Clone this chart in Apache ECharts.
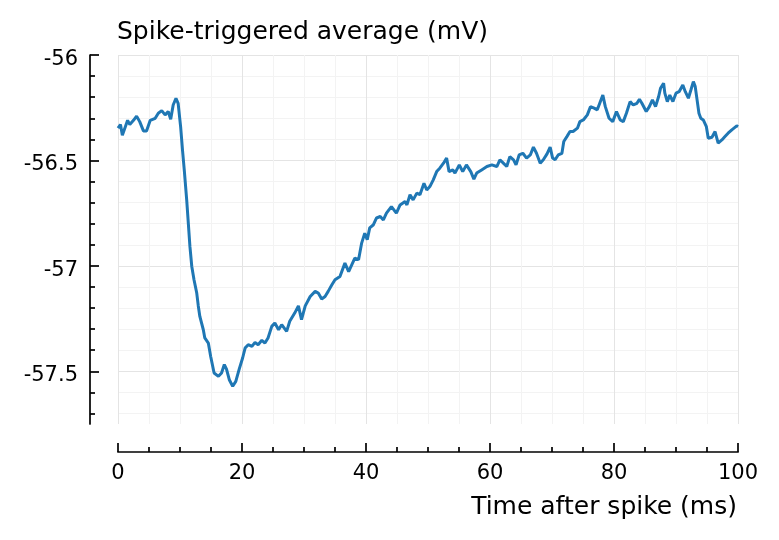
<!DOCTYPE html>
<html>
<head>
<meta charset="utf-8">
<script src="https://cdn.jsdelivr.net/npm/echarts@6/dist/echarts.min.js"></script>
<style>html,body{margin:0;padding:0;background:#fff}#c{width:779px;height:540px}</style>
</head>
<body>
<div id="c"></div>
<script>
const timeMs = [0,0.4,0.7,1.1,1.55,1.9,2.5,3.0,3.5,4.1,4.6,5.2,6.0,6.5,7.05,7.6,8.1,8.5,8.9,9.35,9.7,10.1,10.4,10.7,11.08,11.34,11.6,11.9,12.26,12.7,12.95,13.2,13.76,14.0,14.57,14.95,15.5,16.2,16.7,17.15,17.5,17.95,18.5,19.0,19.55,20.1,20.5,21.0,21.6,22.1,22.6,23.2,23.7,24.2,24.8,25.3,25.9,26.4,27.2,27.7,28.5,29.1,29.6,30.2,31.0,31.8,32.3,32.85,33.4,33.9,34.5,35.0,35.8,36.6,37.2,37.7,38.2,38.8,39.3,39.8,40.2,40.6,41.2,41.7,42.3,42.8,43.3,44.1,44.9,45.5,46.3,46.6,47.1,47.6,48.2,48.7,49.35,49.8,50.3,50.85,51.4,51.9,52.5,53.0,53.4,54.0,54.35,55.05,55.6,56.2,56.9,57.4,57.85,58.65,59.5,60.3,61.1,61.6,62.15,62.7,63.2,63.8,64.2,64.7,65.3,65.9,66.5,67.0,67.5,68.1,68.6,69.2,69.7,70.1,70.5,71.0,71.6,71.9,72.4,72.9,73.4,74.1,74.5,75.05,75.7,76.2,76.8,77.3,77.7,78.2,78.6,79.2,79.8,80.4,81.0,81.5,82.0,82.6,83.1,83.7,84.1,84.5,85.2,85.7,86.2,86.7,87.2,87.5,88.0,88.2,88.6,89.0,89.5,90.0,90.5,91.1,91.5,92.0,92.4,92.8,93.1,93.4,93.7,94.0,94.4,94.9,95.2,95.8,96.3,96.8,97.4,97.9,98.4,99.0,99.8,100];
const voltage = [-56.347,-56.33,-56.38,-56.347,-56.31,-56.33,-56.31,-56.29,-56.316,-56.36,-56.36,-56.31,-56.30,-56.276,-56.264,-56.284,-56.268,-56.305,-56.237,-56.205,-56.229,-56.34,-56.45,-56.55,-56.687,-56.797,-56.908,-57.003,-57.066,-57.129,-57.19,-57.24,-57.303,-57.342,-57.366,-57.43,-57.508,-57.524,-57.508,-57.468,-57.49,-57.54,-57.571,-57.548,-57.49,-57.437,-57.39,-57.374,-57.382,-57.363,-57.374,-57.353,-57.366,-57.342,-57.287,-57.271,-57.303,-57.279,-57.311,-57.263,-57.224,-57.19,-57.255,-57.19,-57.145,-57.121,-57.129,-57.157,-57.145,-57.121,-57.09,-57.066,-57.05,-56.987,-57.027,-56.995,-56.963,-56.971,-56.892,-56.845,-56.876,-56.82,-56.805,-56.773,-56.766,-56.782,-56.75,-56.719,-56.75,-56.711,-56.695,-56.711,-56.663,-56.687,-56.655,-56.663,-56.608,-56.64,-56.624,-56.592,-56.553,-56.537,-56.513,-56.489,-56.553,-56.545,-56.56,-56.521,-56.553,-56.521,-56.553,-56.589,-56.56,-56.545,-56.529,-56.521,-56.529,-56.497,-56.513,-56.529,-56.482,-56.497,-56.521,-56.474,-56.466,-56.489,-56.474,-56.437,-56.466,-56.513,-56.497,-56.469,-56.437,-56.489,-56.497,-56.474,-56.466,-56.41,-56.387,-56.363,-56.363,-56.347,-56.316,-56.308,-56.284,-56.245,-56.252,-56.26,-56.229,-56.19,-56.245,-56.3,-56.316,-56.268,-56.308,-56.316,-56.276,-56.221,-56.237,-56.229,-56.21,-56.229,-56.268,-56.245,-56.213,-56.245,-56.197,-56.158,-56.134,-56.181,-56.221,-56.19,-56.221,-56.181,-56.174,-56.142,-56.174,-56.205,-56.166,-56.126,-56.15,-56.213,-56.276,-56.3,-56.308,-56.34,-56.395,-56.39,-56.363,-56.418,-56.403,-56.387,-56.371,-56.355,-56.336,-56.34];
const yMajorTicks = [-57.5,-57,-56.5,-56];
const yMinorTicks = [-57.7,-57.6,-57.4,-57.3,-57.2,-57.1,-56.9,-56.8,-56.7,-56.6,-56.4,-56.3,-56.2,-56.1];
const titleText = 'Spike-triggered average (mV)';
const xName = 'Time after spike (ms)';

const FONT = 'DejaVu Sans';
const chart = echarts.init(document.getElementById('c'), null, {renderer:'canvas'});
const data = timeMs.map((t,i)=>[t, voltage[i]]);
chart.setOption({
  animation:false,
  backgroundColor:'#fff',
  title:[
    {text:titleText, left:112, top:15, padding:5,
     textStyle:{fontFamily:FONT, fontSize:25, fontWeight:'normal', color:'#000'}},
    {text:xName, right:37, top:490, padding:5,
     textStyle:{fontFamily:FONT, fontSize:25, fontWeight:'normal', color:'#000'}}
  ],
  grid:{left:118, right:41, top:55, bottom:116, containLabel:false},
  xAxis:{type:'value', min:0, max:100, interval:20, position:'bottom', offset:28,
    axisLine:{show:true, onZero:false, lineStyle:{color:'#000', width:1.7}},
    axisTick:{show:true, inside:true, length:9, lineStyle:{color:'#000', width:1.7}},
    minorTick:{show:true, splitNumber:4, length:5, lineStyle:{color:'#000', width:1.7}},
    axisLabel:{fontFamily:FONT, fontSize:21, color:'#000', margin:11},
    splitLine:{show:true, lineStyle:{color:'#e4e4e4', width:1}},
    minorSplitLine:{show:true, lineStyle:{color:'#f3f3f3', width:1}}
  },
  yAxis:[
    {type:'value', min:-57.75, max:-56, position:'left', offset:28,
     axisLine:{show:true, onZero:false, lineStyle:{color:'#000', width:1.7}},
     axisTick:{show:true, inside:true, length:9, customValues:yMajorTicks, lineStyle:{color:'#000', width:1.7}},
     axisLabel:{customValues:yMajorTicks, fontFamily:FONT, fontSize:21, color:'#000', margin:12,
       verticalAlign:'top', lineHeight:9},
     splitLine:{show:true, lineStyle:{color:'#e4e4e4', width:1}}
    },
    {type:'value', min:-57.75, max:-56, position:'left', offset:28,
     axisLine:{show:false, onZero:false},
     axisTick:{show:true, inside:true, length:5, customValues:yMinorTicks, lineStyle:{color:'#000', width:1.7}},
     axisLabel:{show:false, customValues:yMinorTicks},
     splitLine:{show:true, lineStyle:{color:'#f3f3f3', width:1}}
    }
  ],
  series:[{type:'line', data:data, showSymbol:false, yAxisIndex:0,
    lineStyle:{color:'#1f77b4', width:3}, itemStyle:{color:'#1f77b4'}, z:5}]
});
</script>
</body>
</html>
